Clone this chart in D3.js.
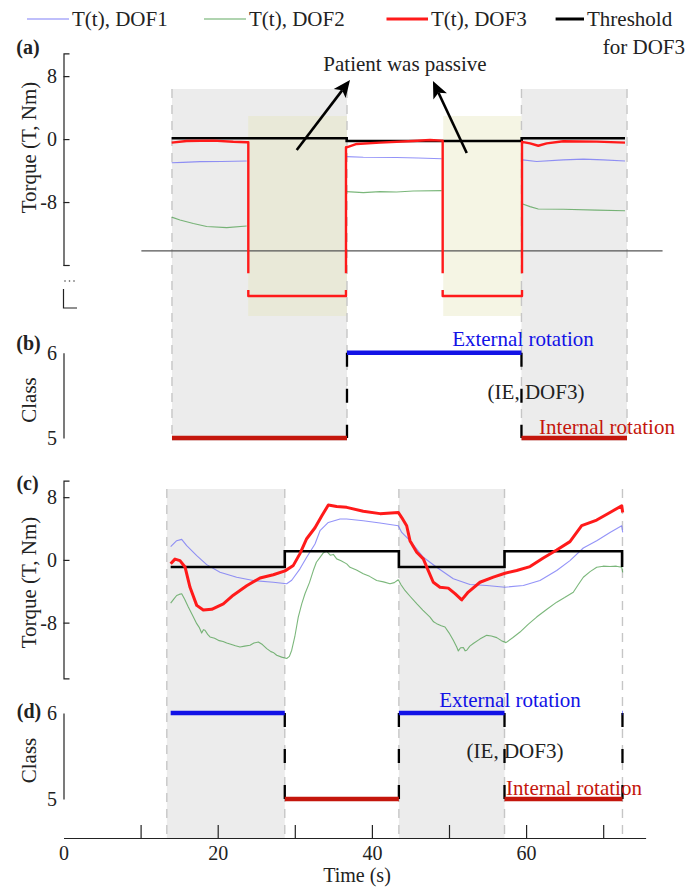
<!DOCTYPE html>
<html><head><meta charset="utf-8">
<script src="https://cdn.jsdelivr.net/npm/d3@7"></script>
<style>
html,body{margin:0;padding:0;background:#fff;}
svg{display:block;}
</style></head><body>
<svg id="chart" width="685" height="888"></svg>
<script>
// ---------------- data ----------------
const timeTicks = [0, 10, 20, 30, 40, 50, 60, 70];
const timeTickLabels = ["0", "", "20", "", "40", "", "60", ""];
const torqueTicksA = [8, 0, -8, -16];
const torqueTickLabelsA = ["8", "0", "-8", ""];
const torqueTicksC = [8, 0, -8];
const torqueTickLabelsC = ["8", "0", "-8"];
const classTicks = [5, 6];
const classTickLabels = ["5", "6"];

// Panel (a): torque with a passive patient; off-scale DOF3 torque sits below the axis break
const PASSIVE = -45;
const redA_t = [14.03, 15.98, 19.43, 22.02, 23.76, 23.97, 23.97, 36.64, 36.64, 36.73, 38.03, 41.05, 45.33, 47.54, 49.05, 49.18, 49.18, 59.47, 59.47, 60.51, 61.58, 62.67, 64.82, 69.16, 72.83];
const redA_v = [-0.4, -0.2, -0.15, -0.3, -0.35, -0.35, PASSIVE, PASSIVE, -1.0, -1.0, -0.57, -0.4, -0.19, -0.06, -0.15, -0.15, PASSIVE, PASSIVE, -0.3, -0.5, -0.8, -0.5, -0.23, -0.28, -0.4];
const blueA_t = [14.03, 15.5, 17.7, 20.5, 23.76, 23.9, 36.73, 38.88, 43.22, 46.0, 49.05, 49.2, 59.56, 61.37, 64.82, 67.42, 70.01, 72.83];
const blueA_v = [-2.96, -2.92, -2.83, -2.8, -2.74, null, -2.19, -2.27, -2.3, -2.36, -2.45, null, -2.6, -2.8, -2.6, -2.5, -2.6, -2.74];
const greenA_t = [14.03, 15.11, 16.84, 18.57, 21.17, 23.76, 23.9, 36.73, 38.88, 41.05, 43.2, 45.37, 49.05, 49.2, 59.56, 60.51, 61.58, 64.82, 69.16, 72.83];
const greenA_v = [-9.9, -10.26, -10.7, -11.1, -11.24, -11.02, null, -6.65, -6.78, -6.65, -6.7, -6.56, -6.52, null, -8.22, -8.56, -8.86, -8.9, -9.0, -9.08];
const thrA_t = [14.03, 36.73, 59.43, 72.83];
const thrA_v = [0.15, -0.2, 0.15, 0.15];
const breakLevelA = -14.2;
const breakSpanA = [10.1, 77.7];

// Activity periods in (a)/(b): shaded trials and passive intervals
const shadeA_start = [14.07, 59.4];
const shadeA_end = [36.77, 73.09];
const passiveA_start = [23.95, 49.25];
const passiveA_end = [36.77, 59.4];

// Panel (b): classification result
const classB_start = [14.07, 36.77, 59.4];
const classB_end = [36.77, 59.4, 73.09];
const classB_value = [5, 6, 5];

// Panel (c): torque with an active patient
const redC_t = [13.90, 14.46, 15.11, 15.76, 16.41, 17.28, 18.13, 19.22, 20.73, 22.02, 23.76, 25.49, 27.21, 28.73, 29.81, 30.67, 31.54, 32.62, 33.49, 34.35, 35.43, 36.73, 38.88, 41.05, 43.42, 43.87, 44.51, 44.94, 45.81, 46.67, 47.31, 47.96, 48.83, 49.91, 50.78, 51.65, 52.5, 54.02, 55.75, 57.26, 58.78, 60.51, 62.23, 63.97, 65.69, 67.21, 69.16, 70.88, 72.4, 72.53];
const redC_v = [-0.5, 0.1, -0.1, -0.9, -3.5, -5.8, -6.4, -6.3, -5.6, -4.5, -3.3, -2.3, -1.9, -1.4, -0.7, 0.8, 2.7, 4.1, 5.6, 7.0, 6.8, 6.7, 6.2, 5.9, 6.05, 5.4, 4.36, 2.45, 0.97, 0.13, -1.36, -2.85, -3.48, -3.6, -4.3, -5.1, -4.1, -2.85, -2.2, -1.7, -1.36, -0.85, 0.25, 1.27, 2.33, 4.36, 5.08, 6.05, 6.9, 6.05];
const blueC_t = [13.90, 14.68, 15.33, 15.98, 17.28, 18.57, 20.30, 22.46, 24.62, 27.21, 28.95, 29.6, 30.67, 31.54, 32.62, 33.27, 34.35, 35.87, 36.73, 38.88, 41.05, 43.42, 43.87, 44.94, 46.67, 48.4, 50.56, 52.72, 54.89, 57.26, 59.64, 61.8, 63.97, 65.69, 67.42, 69.16, 70.88, 72.4, 72.53];
const blueC_v = [1.69, 2.45, 2.62, 1.82, 0.55, -0.6, -1.58, -2.21, -2.63, -2.85, -3.05, -2.6, -1.14, 0.33, 2.03, 3.72, 4.78, 5.21, 5.21, 4.99, 4.7, 4.36, 3.5, 2.45, 0.33, -0.94, -2.41, -3.14, -3.27, -3.48, -3.27, -2.63, -1.36, -0.09, 1.52, 2.45, 3.5, 4.36, 3.5];
const greenC_t = [13.90, 14.3, 14.68, 15.0, 15.33, 15.7, 16.19, 16.7, 17.28, 17.6, 17.92, 18.15, 18.35, 18.7, 19.0, 19.6, 20.2, 20.7, 21.17, 21.8, 22.3, 22.89, 23.5, 24.19, 24.7, 25.27, 25.8, 26.36, 26.9, 27.2, 27.65, 28.3, 28.95, 29.3, 29.6, 30.0, 30.45, 30.9, 31.32, 31.9, 32.4, 32.8, 33.27, 33.7, 34.14, 34.6, 35.0, 35.43, 36.0, 36.73, 37.16, 38.0, 38.88, 39.7, 40.62, 41.5, 42.35, 42.9, 43.42, 43.8, 44.29, 45.0, 45.81, 46.6, 47.54, 48.0, 48.4, 49.0, 49.48, 50.0, 50.56, 51.0, 51.21, 51.5, 51.86, 52.1, 52.3, 52.7, 53.15, 54.0, 54.89, 55.5, 56.19, 56.8, 57.39, 58.3, 59.21, 60.3, 61.37, 62.7, 63.97, 65.0, 66.12, 66.8, 67.42, 68.3, 69.16, 70.0, 70.88, 71.7, 72.4, 72.53];
const greenC_v = [-5.51, -5.0, -4.54, -4.4, -4.32, -5.0, -6.02, -7.0, -8.13, -8.6, -9.33, -8.9, -8.98, -9.5, -9.83, -10.0, -10.3, -10.4, -10.6, -10.8, -10.95, -11.1, -11.0, -10.89, -10.6, -10.47, -10.8, -11.31, -11.7, -11.8, -12.16, -12.4, -12.58, -12.3, -11.52, -9.8, -7.29, -5.6, -4.32, -2.9, -1.36, -0.3, 0.33, 0.9, 1.09, 0.6, 0.7, 0.13, -0.1, -0.51, -0.94, -1.3, -1.78, -2.1, -2.63, -2.8, -3.05, -2.9, -2.54, -3.2, -3.9, -4.7, -5.59, -6.4, -7.29, -7.9, -8.13, -8.4, -8.56, -9.3, -10.25, -11.1, -11.61, -11.2, -11.18, -11.6, -11.52, -11.0, -10.67, -10.1, -9.62, -9.7, -9.91, -10.3, -10.55, -9.9, -9.2, -8.2, -7.29, -6.3, -5.39, -4.8, -4.12, -3.1, -2.21, -1.5, -0.94, -0.8, -0.85, -0.8, -0.94, -1.58];
const thrC_t = [13.90, 28.7, 43.5, 57.2, 72.45];
const thrC_v = [-0.9, 1.1, -0.9, 1.1, -0.9];

// Activity periods in (c)/(d)
const shadeC_start = [13.4, 43.5];
const shadeC_end = [28.7, 57.2];
const edgesC = [13.4, 28.7, 43.5, 57.2, 72.5];

// Panel (d): classification result
const classD_start = [13.9, 28.7, 43.5, 57.2, 72.5];
const classD_end = [28.7, 43.5, 57.2, 72.5, 72.56];
const classD_value = [6, 5, 6, 5, 6];

// ---------------- styling ----------------
const COL = {
  dof1: "#6f6ff5", dof2: "#4f9f4f", dof3: "#ff1a1a", thr: "#000",
  ext: "#1212e6", int: "#c4160c", shade: "#ececec", passive: "#e6e6b8"
};
const FS = 21;      // labels and annotations
const FS_TICK = 20; // tick labels
const FONT = "Liberation Serif";

const svg = d3.select("#chart").attr("font-family", FONT);
const pairs = (t, v) => t.map((d, i) => [d, v[i]]);

// ---------------- scales ----------------
const x = d3.scaleLinear().domain([0, 75.5]).range([63.5, 645.6]);
const yA = d3.scaleLinear().domain([PASSIVE, -16, 8]).range([296, 265, 76.7]);
const yAaxis = d3.scaleLinear().domain([-16, 10.9]).range([265, 53.3]);
const yB = d3.scaleLinear().domain([5, 6]).range([438, 352.7]);
const yC = d3.scaleLinear().domain([-15.1, 10.1]).range([678.3, 480.7]);
const yD = d3.scaleLinear().domain([5, 6]).range([799, 713]);

const defs = svg.append("defs");
defs.append("clipPath").attr("id", "clipUpper").append("rect")
  .attr("x", 0).attr("y", 0).attr("width", 685).attr("height", 273.3);
defs.append("clipPath").attr("id", "clipLower").append("rect")
  .attr("x", 0).attr("y", 290).attr("width", 685).attr("height", 100);

// ---------------- shading ----------------
function shade(starts, ends, y0, y1, fill, opacity) {
  svg.append("g").selectAll("rect").data(starts).join("rect")
    .attr("x", (d) => x(d)).attr("width", (d, i) => x(ends[i]) - x(d))
    .attr("y", y0).attr("height", y1 - y0)
    .attr("fill", fill).attr("fill-opacity", opacity);
}
function edges(ts, y0, y1) {
  svg.append("g").selectAll("line").data(ts).join("line")
    .attr("x1", (d) => x(d)).attr("x2", (d) => x(d))
    .attr("y1", y0).attr("y2", y1)
    .attr("stroke", "#c6c6c6").attr("stroke-width", 1.4)
    .attr("stroke-dasharray", "9,7");
}
shade(shadeA_start, shadeA_end, 89, 441, COL.shade, 1);
shade(passiveA_start, passiveA_end, 116, 316, COL.passive, 0.38);
edges([shadeA_start[0], shadeA_end[0], shadeA_start[1], shadeA_end[1]], 89, 441);
shade(shadeC_start, shadeC_end, 489, 838, COL.shade, 1);
edges(edgesC, 489, 838);

// ---------------- helpers ----------------
function trace(data, yS, color, width, opacity, clip) {
  const line = d3.line().defined((d) => d[1] !== null)
    .x((d) => x(d[0])).y((d) => yS(d[1]));
  const p = svg.append("path").datum(data)
    .attr("d", line).attr("fill", "none")
    .attr("stroke", color).attr("stroke-width", width)
    .attr("stroke-opacity", opacity).attr("stroke-linejoin", "round");
  if (clip) p.attr("clip-path", `url(#${clip})`);
  return p;
}
function stepTrace(t, v, yS) {
  const line = d3.line().curve(d3.curveStepAfter)
    .x((d) => x(d[0])).y((d) => yS(d[1]));
  svg.append("path").datum(pairs(t, v)).attr("d", line)
    .attr("fill", "none").attr("stroke", COL.thr).attr("stroke-width", 2.6);
}
function yAxis(scale, ticks, labels, inner) {
  const ax = d3.axisLeft(scale).tickValues(ticks)
    .tickFormat((d, i) => labels[i])
    .tickSize(-inner).tickSizeOuter(-inner).tickPadding(6.5);
  const g = svg.append("g").attr("transform", "translate(63.5,0)").call(ax)
    .attr("font-family", FONT).attr("font-size", FS_TICK);
  g.selectAll("path,line").attr("stroke", "#222").attr("stroke-width", 1.2);
  g.selectAll("text").attr("fill", "#222");
  return g;
}
function classPanel(starts, ends, values, yS) {
  const g = svg.append("g");
  // transitions between classes
  values.forEach((v, i) => {
    if (i === 0) return;
    const lo = Math.max(values[i - 1], v), hi = Math.min(values[i - 1], v);
    g.append("line").attr("x1", x(starts[i])).attr("x2", x(starts[i]))
      .attr("y1", yS(lo)).attr("y2", yS(hi))
      .attr("stroke", "#000").attr("stroke-width", 2.3)
      .attr("stroke-dasharray", "14,22");
  });
  g.selectAll("line.seg").data(values).join("line").attr("class", "seg")
    .attr("x1", (d, i) => x(starts[i])).attr("x2", (d, i) => x(ends[i]))
    .attr("y1", (d) => yS(d)).attr("y2", (d) => yS(d))
    .attr("stroke", (d) => (d === 6 ? COL.ext : COL.int))
    .attr("stroke-width", 4.5);
}
function label(txt, cx, cy, opts = {}) {
  const t = svg.append("text").attr("x", cx).attr("y", cy)
    .attr("text-anchor", opts.anchor || "middle")
    .attr("dominant-baseline", "central")
    .attr("font-family", FONT)
    .attr("font-size", opts.size || FS)
    .attr("fill", opts.color || "#222")
    .text(txt);
  if (opts.bold) t.attr("font-weight", "bold");
  if (opts.rotate) t.attr("transform", `rotate(-90,${cx},${cy})`);
  return t;
}

// ---------------- panel (a) ----------------
svg.append("line")
  .attr("x1", x(breakSpanA[0])).attr("x2", x(breakSpanA[1]))
  .attr("y1", yA(breakLevelA)).attr("y2", yA(breakLevelA))
  .attr("stroke", "#555").attr("stroke-width", 1.3);
trace(pairs(greenA_t, greenA_v), yA, COL.dof2, 1.1, 0.75);
trace(pairs(blueA_t, blueA_v), yA, COL.dof1, 1.1, 0.75);
stepTrace(thrA_t, thrA_v, yA);
trace(pairs(redA_t, redA_v), yA, COL.dof3, 2.4, 1, "clipUpper");
trace(pairs(redA_t, redA_v), yA, COL.dof3, 2.4, 1, "clipLower");

yAxis(yAaxis, torqueTicksA, torqueTickLabelsA, 6);
// axis break marks below the scale
svg.append("g").selectAll("circle").data([0, 1, 2]).join("circle")
  .attr("cx", (d) => 65 + d * 4.5).attr("cy", 281).attr("r", 0.8).attr("fill", "#444");
svg.append("path").attr("d", `M63.5,289V308H77`).attr("fill", "none")
  .attr("stroke", "#222").attr("stroke-width", 1.2);

label("(a)", 28, 47, { bold: true, size: 20 });
label("Torque (T, Nm)", 28.5, 147.5, { rotate: true });

// annotation with two arrows
function arrow(t0, v0, t1, v1) {
  const x0 = x(t0), y0 = yA(v0), x1 = x(t1), y1 = yA(v1);
  const ang = Math.atan2(y1 - y0, x1 - x0);
  const L = 17, W = 7.5;
  const bx = x1 - L * Math.cos(ang), by = y1 - L * Math.sin(ang);
  svg.append("line").attr("x1", x0).attr("y1", y0).attr("x2", bx + 4 * Math.cos(ang)).attr("y2", by + 4 * Math.sin(ang))
    .attr("stroke", "#000").attr("stroke-width", 2.6);
  const px = -Math.sin(ang), py = Math.cos(ang);
  const notch = [x1 - (L - 4) * Math.cos(ang), y1 - (L - 4) * Math.sin(ang)];
  svg.append("path").attr("d",
    `M${x1},${y1}L${bx + W * px},${by + W * py}L${notch[0]},${notch[1]}L${bx - W * px},${by - W * py}Z`)
    .attr("fill", "#000");
}
arrow(30.25, -1.34, 37.16, 7.58);
arrow(52.3, -1.72, 47.92, 7.46);
label("Patient was passive", 405, 64);

// ---------------- panel (b) ----------------
classPanel(classB_start, classB_end, classB_value, yB);
yAxis(yB, classTicks, classTickLabels, 0).call((g) => g.selectAll(".tick line").remove());
label("(b)", 28.5, 342.5, { bold: true, size: 20 });
label("Class", 28.5, 400, { rotate: true });
label("External rotation", 523, 339, { color: COL.ext });
label("(IE, DOF3)", 536, 391.5, { color: "#222" });
label("Internal rotation", 607, 426.5, { color: COL.int });

// ---------------- panel (c) ----------------
trace(pairs(greenC_t, greenC_v), yC, COL.dof2, 1.1, 0.75);
trace(pairs(blueC_t, blueC_v), yC, COL.dof1, 1.1, 0.75);
stepTrace(thrC_t, thrC_v, yC);
trace(pairs(redC_t, redC_v), yC, COL.dof3, 3, 1);
yAxis(yC, torqueTicksC, torqueTickLabelsC, 6);
label("(c)", 27.5, 483, { bold: true, size: 20 });
label("Torque (T, Nm)", 28.5, 582.5, { rotate: true });

// ---------------- panel (d) ----------------
classPanel(classD_start, classD_end, classD_value, yD);
yAxis(yD, classTicks, classTickLabels, 0).call((g) => g.selectAll(".tick line").remove());
label("(d)", 29, 711, { bold: true, size: 20 });
label("Class", 28.5, 760.5, { rotate: true });
label("External rotation", 510, 700, { color: COL.ext });
label("(IE, DOF3)", 515, 750.5, { color: "#222" });
label("Internal rotation", 574, 788, { color: COL.int });

// ---------------- time axis ----------------
const xAx = d3.axisBottom(x).tickValues(timeTicks)
  .tickFormat((d, i) => timeTickLabels[i])
  .tickSize(-13).tickSizeOuter(0).tickPadding(7.5);
const gx = svg.append("g").attr("transform", "translate(0,838)").call(xAx)
  .attr("font-family", FONT).attr("font-size", FS_TICK);
gx.selectAll("path,line").attr("stroke", "#222").attr("stroke-width", 1.2);
gx.selectAll(".tick").filter((d) => d === 0).select("line").remove();
gx.selectAll("text").attr("fill", "#222");
label("Time (s)", 357, 875, { size: 20 });

// ---------------- legend ----------------
const legendItems = ["T(t), DOF1", "T(t), DOF2", "T(t), DOF3", "Threshold"];
const legendColors = [COL.dof1, COL.dof2, COL.dof3, COL.thr];
const legendWidths = [1.5, 1.5, 3, 3];
const legendOpacity = [0.6, 0.6, 1, 1];
const legendX = [27, 204, 386.5, 555.6];
const legendLen = [42, 42, 41.5, 28.4];
const lg = svg.append("g").attr("font-family", FONT);
legendItems.forEach((name, i) => {
  lg.append("line").attr("x1", legendX[i]).attr("x2", legendX[i] + legendLen[i])
    .attr("y1", 19).attr("y2", 19).attr("stroke", legendColors[i])
    .attr("stroke-width", legendWidths[i]).attr("stroke-opacity", legendOpacity[i]);
  lg.append("text").attr("x", legendX[i] + legendLen[i] + 3).attr("y", 19)
    .attr("dominant-baseline", "central").attr("font-size", FS).attr("fill", "#222")
    .text(name);
});
lg.append("text").attr("x", 685).attr("y", 47).attr("text-anchor", "end")
  .attr("dominant-baseline", "central").attr("font-size", FS).attr("fill", "#222")
  .text("for DOF3");
</script>
</body></html>
